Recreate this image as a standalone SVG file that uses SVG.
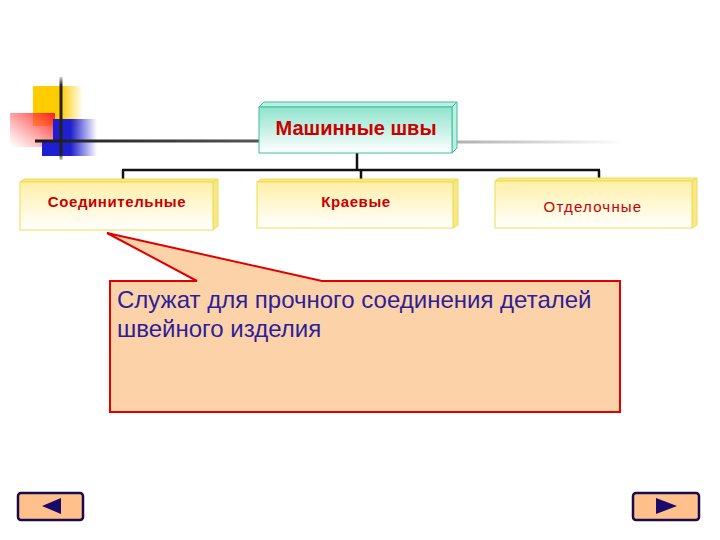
<svg xmlns="http://www.w3.org/2000/svg" width="720" height="540" viewBox="0 0 720 540">
<defs>
<linearGradient id="gTeal" x1="0" y1="0" x2="0" y2="1">
<stop offset="0" stop-color="#8fe3cc"/><stop offset="1" stop-color="#ffffff"/>
</linearGradient>
<linearGradient id="gYel" x1="0" y1="0" x2="0" y2="1">
<stop offset="0" stop-color="#fff0a8"/><stop offset="1" stop-color="#ffffff"/>
</linearGradient>
<linearGradient id="gYS" x1="0" y1="0" x2="1" y2="0">
<stop offset="0" stop-color="#ffcc00"/><stop offset="0.55" stop-color="#ffcc00"/><stop offset="1" stop-color="#ffcc00" stop-opacity="0"/>
</linearGradient>
<linearGradient id="gRed" x1="1" y1="0" x2="0" y2="1">
<stop offset="0" stop-color="#ff1a1a"/><stop offset="0.5" stop-color="#ff6060" stop-opacity="0.6"/><stop offset="1" stop-color="#ff8080" stop-opacity="0"/>
</linearGradient>
<linearGradient id="gBlue" x1="0" y1="0" x2="1" y2="0">
<stop offset="0" stop-color="#1e1ed2"/><stop offset="0.4" stop-color="#2020d0"/><stop offset="1" stop-color="#2020d0" stop-opacity="0"/>
</linearGradient>
<linearGradient id="gVl" gradientUnits="userSpaceOnUse" x1="0" y1="77" x2="0" y2="160">
<stop offset="0" stop-color="#222" stop-opacity="0.2"/><stop offset="0.1" stop-color="#222"/><stop offset="0.92" stop-color="#222"/><stop offset="1" stop-color="#222" stop-opacity="0.2"/>
</linearGradient>
<linearGradient id="gHl" gradientUnits="userSpaceOnUse" x1="35" y1="0" x2="259" y2="0">
<stop offset="0" stop-color="#1a1a1a"/><stop offset="1" stop-color="#555"/>
</linearGradient>
<linearGradient id="gHr" gradientUnits="userSpaceOnUse" x1="457" y1="0" x2="625" y2="0">
<stop offset="0" stop-color="#b0b0b0"/><stop offset="1" stop-color="#ffffff"/>
</linearGradient>
<style>
.lbl{font-family:"Liberation Sans",Arial,sans-serif;font-weight:bold;fill:#c80000;text-anchor:middle}
.face-t{fill:url(#gTeal);stroke:#3cbfa0;stroke-width:1}
.side-t{fill:#bdeee0;stroke:#3cbfa0;stroke-width:1}
.face-y{fill:url(#gYel);stroke:#f0dc50;stroke-width:1}
.side-y{fill:#f7e88a;stroke:#f0dc50;stroke-width:1}
.conn{stroke:#111;stroke-width:2.5;fill:none}
.btn{fill:#ffc08c;stroke:#1a0a4a;stroke-width:2.5}
.tri{fill:#1a0a6a}
.body{font-family:"Liberation Sans",Arial,sans-serif;font-size:24px;fill:#2e1e9a}
</style>
</defs>
<rect width="720" height="540" fill="#ffffff"/>

<g id="decoration">
<rect x="33" y="86" width="50" height="40" fill="url(#gYS)"/>
<rect x="10" y="113" width="45" height="34" fill="url(#gRed)"/>
<rect x="53" y="119" width="44" height="37" fill="url(#gBlue)"/>
<rect x="42" y="141" width="12" height="15" fill="#1e1ed2"/>
<rect x="59.5" y="77" width="3" height="83" fill="url(#gVl)"/>
<rect x="35" y="139.5" width="224" height="3" fill="url(#gHl)"/>
<rect x="457" y="140.5" width="168" height="3" fill="url(#gHr)"/>
</g>

<g id="connectors">
<line class="conn" x1="357" y1="153" x2="357" y2="170"/>
<line class="conn" x1="122" y1="170" x2="600" y2="170"/>
<line class="conn" x1="123" y1="170" x2="123" y2="180"/>
<line class="conn" x1="361" y1="170" x2="361" y2="180"/>
<line class="conn" x1="599" y1="170" x2="599" y2="178"/>
</g>

<g id="node-root">
<path class="side-t" d="M259,107 L264,102 L457,102 L452,107 Z"/>
<path class="side-t" d="M452,107 L457,102 L457,148 L452,153 Z"/>
<rect class="face-t" x="259" y="107" width="193" height="46"/>
<text class="lbl" x="356" y="135" font-size="20">Машинные швы</text>
</g>

<g id="node-left">
<path class="side-y" d="M20,182 L24,179 L218,179 L213,182 Z"/>
<path class="side-y" d="M213,182 L218,179 L218,226 L213,230 Z"/>
<rect class="face-y" x="20" y="182" width="193" height="48"/>
<text class="lbl" x="117" y="207" font-size="15" letter-spacing="0.6">Соединительные</text>
</g>

<g id="node-mid">
<path class="side-y" d="M257,182 L261,179 L458,179 L453,182 Z"/>
<path class="side-y" d="M453,182 L458,179 L458,225 L453,228 Z"/>
<rect class="face-y" x="257" y="182" width="196" height="46"/>
<text class="lbl" x="356" y="207" font-size="15" letter-spacing="0.6">Краевые</text>
</g>

<g id="node-right">
<path class="side-y" d="M495,181 L499,178 L697,178 L692,181 Z"/>
<path class="side-y" d="M692,181 L697,178 L697,225 L692,228 Z"/>
<rect class="face-y" x="495" y="181" width="197" height="47"/>
<text class="lbl" x="593" y="212" font-size="15" letter-spacing="1.2" style="font-weight:normal">Отделочные</text>
</g>

<g id="callout">
<path d="M110,281 L197,281 L107,233 L322,281 L620,281 L620,412 L110,412 Z" fill="#fcd3a8" stroke="#e00000" stroke-width="2" stroke-linejoin="miter"/>
<text class="body" x="117" y="308">Служат для прочного соединения деталей</text>
<text class="body" x="117" y="337">швейного изделия</text>
</g>

<g id="btn-prev">
<rect class="btn" x="18" y="493" width="65" height="27" rx="3"/>
<path class="tri" d="M42,506 L61,498 L61,514 Z"/>
</g>
<g id="btn-next">
<rect class="btn" x="633" y="493" width="66" height="27" rx="3"/>
<path class="tri" d="M677,506 L656,498 L656,514 Z"/>
</g>
</svg>
